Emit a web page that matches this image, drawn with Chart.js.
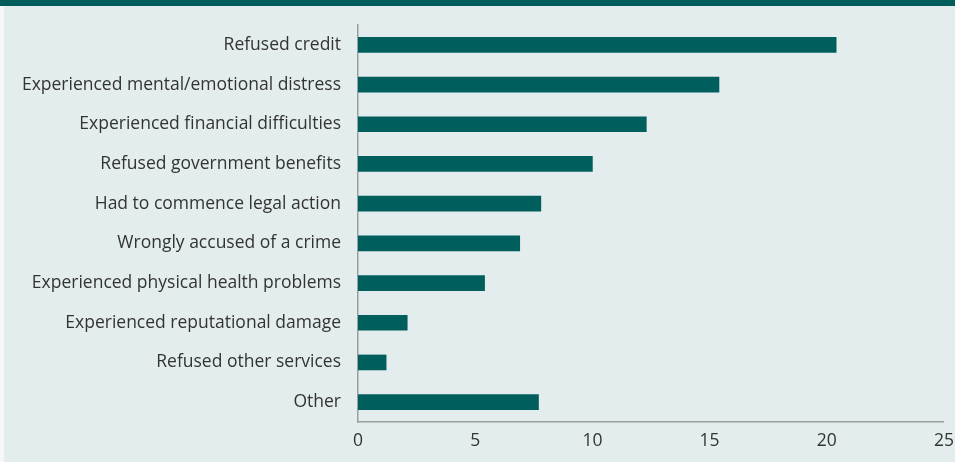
<!DOCTYPE html>
<html>
<head>
<meta charset="utf-8">
<script src="https://cdn.jsdelivr.net/npm/chart.js@4.4.1/dist/chart.umd.min.js"></script>
<style>
    html, body { margin: 0; padding: 0; }
    body { width: 955px; height: 462px; background: #e4eded; position: relative; overflow: hidden; }
    #top-strip { position: absolute; left: 0; top: 0; width: 955px; height: 6px; background: #005c5b; }
    #left-edge { position: absolute; left: 0; top: 6px; width: 4px; height: 456px; background: #f7f9f9; }
    #wrap { position: absolute; left: 0; top: 0; width: 955px; height: 462px; }
</style>
</head>
<body>
<div id="top-strip"></div>
<div id="left-edge"></div>
<div id="wrap"><canvas id="chart"></canvas></div>
<script>
// --- Data ---
const categories = [
    'Refused credit',
    'Experienced mental/emotional distress',
    'Experienced financial difficulties',
    'Refused government benefits',
    'Had to commence legal action',
    'Wrongly accused of a crime',
    'Experienced physical health problems',
    'Experienced reputational damage',
    'Refused other services',
    'Other'
];
const values = [20.4, 15.4, 12.3, 10.0, 7.8, 6.9, 5.4, 2.1, 1.2, 7.7];
const xMin = 0;
const xMax = 25;
const xStep = 5;

const teal = '#005e5c';
const labelFont = { family: 'Open Sans', size: 17.5 };

new Chart(document.getElementById('chart'), {
    type: 'bar',
    data: {
        labels: categories,
        datasets: [{
            data: values,
            backgroundColor: teal,
            barThickness: 15
        }]
    },
    options: {
        indexAxis: 'y',
        responsive: true,
        maintainAspectRatio: false,
        animation: false,
        layout: { padding: { top: 25, right: 0, bottom: 0, left: 0 } },
        plugins: { legend: { display: false }, tooltip: { enabled: false } },
        scales: {
            x: {
                min: xMin,
                max: xMax,
                ticks: { stepSize: xStep, color: '#333', font: labelFont, padding: 1 },
                grid: { display: false },
                border: { display: true, color: '#9a9fa0', width: 1.5 },
                afterFit: (scale) => { scale.height = 40; }
            },
            y: {
                ticks: { color: '#333', font: labelFont, padding: 9 },
                grid: { display: false },
                border: { display: true, color: '#9a9fa0', width: 1.5 },
                afterFit: (scale) => { scale.width = 358; }
            }
        }
    }
});
</script>
</body>
</html>
